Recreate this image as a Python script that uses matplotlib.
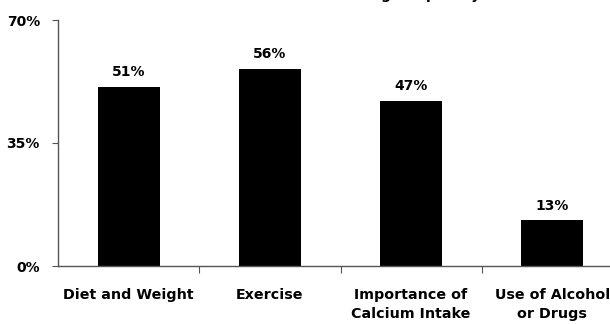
import matplotlib
matplotlib.use("Agg")
import matplotlib.pyplot as plt

# Share of parents who discuss each topic frequently
topics = ["Diet and Weight", "Exercise", "Importance of\nCalcium Intake", "Use of Alcohol\nor Drugs"]
percents = [51, 56, 47, 13]
y_ticks = [0, 35, 70]
y_tick_labels = ["0%", "35%", "70%"]

plt.rcParams["font.family"] = ["DejaVu Sans"]

fig = plt.figure(figsize=(6.1, 3.24), dpi=100)
# plot area runs slightly past the right edge of the figure
ax = fig.add_axes([58 / 610, 58 / 324, 565 / 610, 246 / 324])

x = list(range(len(topics)))
bars = ax.bar(x, percents, width=0.44, color="black")

for xi, v in zip(x, percents):
    ax.text(xi, v + 2.2, f"{v}%", ha="center", va="bottom",
            fontsize=10, fontweight="bold")

ax.set_xlim(-0.5, len(topics) - 0.5)
ax.set_ylim(0, 70)

ax.set_yticks(y_ticks)
ax.set_yticklabels(y_tick_labels, fontsize=10, fontweight="bold")

# category ticks sit between the bars, labels sit under each bar
ax.set_xticks([i + 0.5 for i in x[:-1]])
ax.set_xticklabels([])
ax.set_xticks(x, minor=True)
ax.set_xticklabels(topics, minor=True, fontsize=10.3, fontweight="bold",
                   va="top", linespacing=1.4)
ax.tick_params(axis="x", which="minor", length=0, pad=16)
ax.tick_params(axis="x", which="major", length=5, direction="out", color="#555555")
ax.tick_params(axis="y", length=4, direction="out", color="#555555", pad=9)

for side in ("top", "right"):
    ax.spines[side].set_visible(False)
for side in ("left", "bottom"):
    ax.spines[side].set_color("#555555")
    ax.spines[side].set_linewidth(1)

# title sits above the top edge; only its lower part shows
fig.text(318 / 610, 1.0 + 1.5 / 324, "Percent of Parents Discussing Frequently",
         ha="center", va="baseline", fontsize=10, fontweight="bold")

fig.savefig("out.png", dpi=100, facecolor="white")
